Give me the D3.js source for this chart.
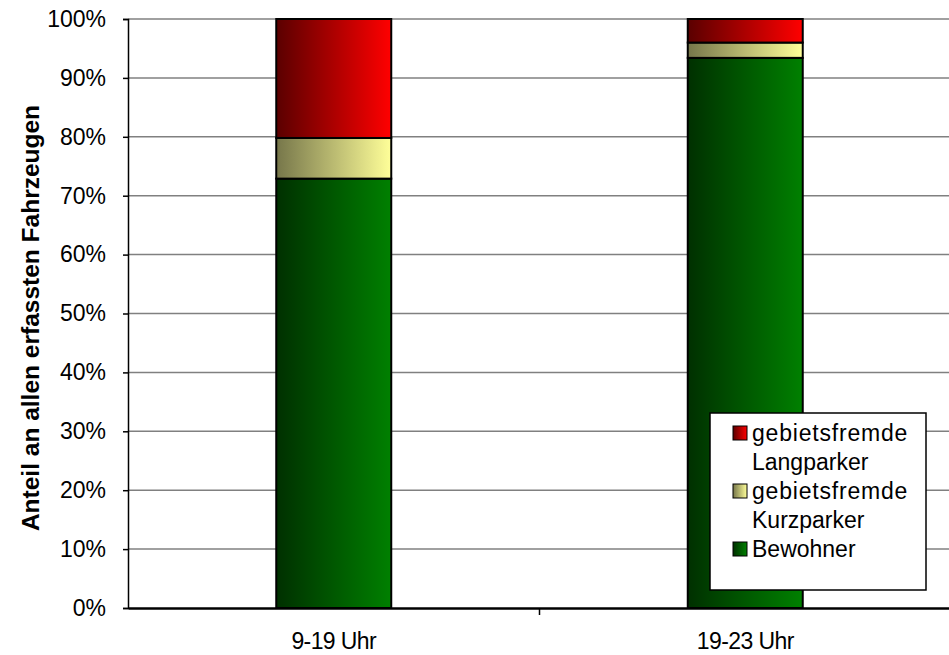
<!DOCTYPE html>
<html>
<head>
<meta charset="utf-8">
<script src="https://cdn.jsdelivr.net/npm/d3@7"></script>
<style>
  body { margin: 0; background: #fff; }
  text { font-family: "Liberation Sans", Arial, sans-serif; }
</style>
</head>
<body>
<div id="chart"></div>
<script>
// categories and series (share of vehicles, %)
var categories = ["9-19 Uhr", "19-23 Uhr"];
var bewohner = [72.9, 93.4];
var kurzparker = [6.9, 2.6];
var langparker = [20.2, 4.0];
var seriesNames = ["Bewohner", "gebietsfremde Kurzparker", "gebietsfremde Langparker"];
var yTicks = [0, 10, 20, 30, 40, 50, 60, 70, 80, 90, 100];

var W = 949, H = 655;
var margin = { top: 19, right: -2, bottom: 47, left: 128 };
var width = W - margin.left - margin.right,
    height = H - margin.top - margin.bottom;

var svg = d3.select("#chart").append("svg")
    .attr("width", W).attr("height", H);

// gradients: dark on the left, bright on the right
var colors = {
    "Bewohner": ["#003000", "#008000"],
    "gebietsfremde Kurzparker": ["#76764a", "#ffff99"],
    "gebietsfremde Langparker": ["#5a0000", "#ff0000"]
};
var defs = svg.append("defs");
seriesNames.forEach(function(name, i) {
    var g = defs.append("linearGradient").attr("id", "grad" + i)
        .attr("x1", "0%").attr("x2", "100%").attr("y1", "0%").attr("y2", "0%");
    g.append("stop").attr("offset", "0%").attr("stop-color", colors[name][0]);
    g.append("stop").attr("offset", "100%").attr("stop-color", colors[name][1]);
});

var g = svg.append("g")
    .attr("transform", "translate(" + margin.left + "," + margin.top + ")");

var x = d3.scaleBand().domain(categories).range([0, width]).paddingInner(0).paddingOuter(0);
var y = d3.scaleLinear().domain([0, 100]).range([height, 0]);

// gridlines
g.selectAll(".grid").data(yTicks.slice(1)).enter().append("line")
    .attr("x1", 0).attr("x2", width + 2)
    .attr("y1", function(d) { return y(d); }).attr("y2", function(d) { return y(d); })
    .attr("stroke", "#808080").attr("stroke-width", 1.5);

// stack the data
var table = categories.map(function(c, i) {
    return { cat: c, "Bewohner": bewohner[i], "gebietsfremde Kurzparker": kurzparker[i], "gebietsfremde Langparker": langparker[i] };
});
var stacked = d3.stack().keys(seriesNames)(table);

var barW = 115;
stacked.forEach(function(layer, i) {
    g.selectAll(".bar" + i).data(layer).enter().append("rect")
        .attr("x", function(d) { return x(d.data.cat) + x.bandwidth() / 2 - barW / 2; })
        .attr("width", barW)
        .attr("y", function(d) { return y(d[1]); })
        .attr("height", function(d) { return y(d[0]) - y(d[1]); })
        .attr("fill", "url(#grad" + i + ")")
        .attr("stroke", "#000").attr("stroke-width", 2);
});

// y axis
var yAxis = g.append("g")
    .call(d3.axisLeft(y).tickValues(yTicks).tickFormat(function(d) { return d + "%"; }).tickSize(5).tickPadding(17));
yAxis.select(".domain").attr("stroke", "#000").attr("stroke-width", 1.5);
yAxis.selectAll(".tick line").attr("stroke", "#000").attr("stroke-width", 1.5);
yAxis.selectAll("text").attr("font-size", "23px").attr("fill", "#000")
    .attr("font-family", "'Liberation Sans', Arial, sans-serif");

// x axis
var xAxis = g.append("g").attr("transform", "translate(0," + height + ")")
    .call(d3.axisBottom(x).tickSize(0).tickPadding(25));
xAxis.select(".domain").attr("stroke", "#000").attr("stroke-width", 2.5);
xAxis.selectAll("text").attr("font-size", "23px").attr("fill", "#000")
    .attr("letter-spacing", "-0.6px")
    .attr("font-family", "'Liberation Sans', Arial, sans-serif");
// separator tick between categories
g.append("line")
    .attr("x1", x(categories[1])).attr("x2", x(categories[1]))
    .attr("y1", height).attr("y2", height + 7)
    .attr("stroke", "#000").attr("stroke-width", 1.5);

// y axis title
svg.append("text")
    .attr("transform", "translate(30," + 318 + ") rotate(-90)")
    .attr("text-anchor", "middle").attr("dy", "0.35em")
    .attr("font-size", "24.5px").attr("font-weight", "bold")
    .text("Anteil an allen erfassten Fahrzeugen");

// legend
var legend = svg.append("g").attr("transform", "translate(710,413)");
legend.append("rect").attr("width", 216).attr("height", 177)
    .attr("fill", "#fff").attr("stroke", "#000").attr("stroke-width", 1.5);
var legendItems = [
    { idx: 2, lines: ["gebietsfremde", "Langparker"] },
    { idx: 1, lines: ["gebietsfremde", "Kurzparker"] },
    { idx: 0, lines: ["Bewohner"] }
];
var lineH = 29, ly = 20;
legendItems.forEach(function(item) {
    legend.append("rect").attr("x", 23).attr("y", ly - 7).attr("width", 14).attr("height", 14)
        .attr("fill", "url(#grad" + item.idx + ")").attr("stroke", "#000").attr("stroke-width", 1);
    item.lines.forEach(function(t, k) {
        legend.append("text").attr("x", 42).attr("y", ly + k * lineH).attr("dy", "0.36em")
            .attr("font-size", "23px")
            .attr("letter-spacing", t === "gebietsfremde" ? "0.8px" : "0px").text(t);
    });
    ly += item.lines.length * lineH;
});
</script>
</body>
</html>
